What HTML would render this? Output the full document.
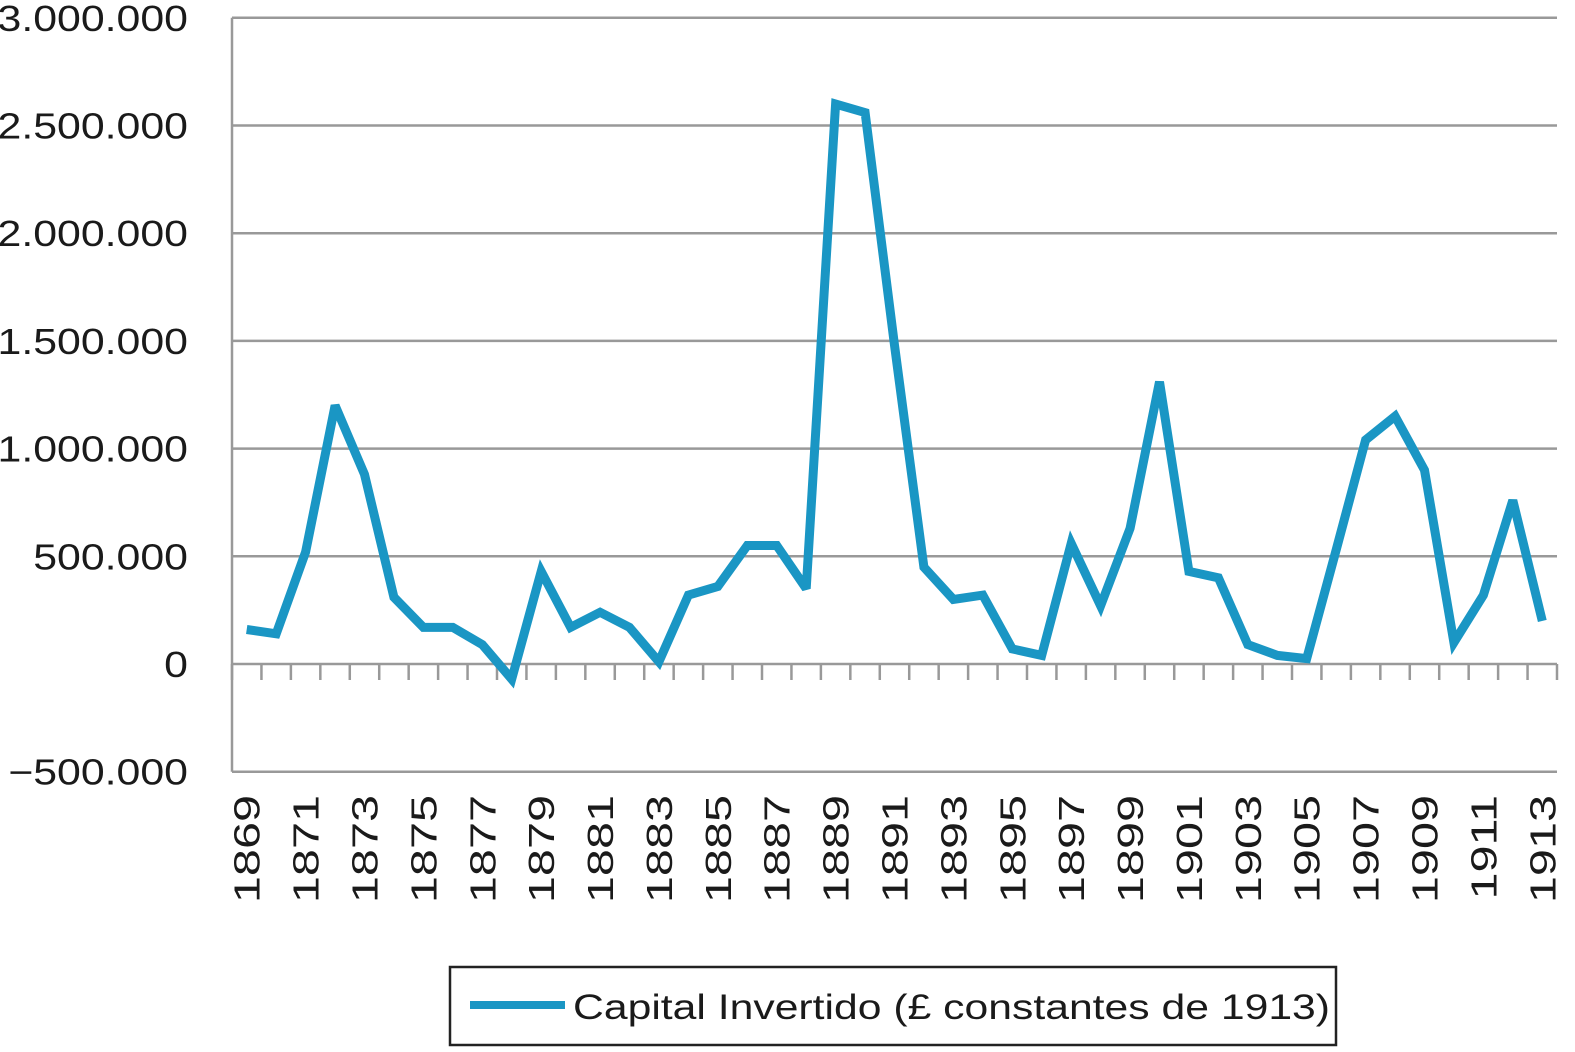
<!DOCTYPE html>
<html><head><meta charset="utf-8"><style>
html,body{margin:0;padding:0;background:#fff;}
svg{display:block;font-family:"Liberation Sans",Arial,sans-serif;}
</style></head><body>
<svg id="chart" width="1575" height="1052" viewBox="0 0 1575 1052">
<g id="grid"></g>
<g id="yticks"></g>
<g id="xaxis"></g>
<g id="series"></g>
<g>
<rect x="450" y="967" width="886" height="78" fill="#fff" stroke="#222" stroke-width="2.5"/>
<line x1="470" y1="1005" x2="565" y2="1005" stroke="#1a96c4" stroke-width="8"/>
<text transform="translate(573,1019) scale(1.22,1)" x="0" y="0" font-size="35" fill="#1a1a1a">Capital Invertido (£ constantes de 1913)</text>
</g>
</svg>
<script>
const years=[];for(let y=1869;y<=1913;y++)years.push(y);
const values=[160000,140000,520000,1200000,880000,310000,170000,170000,90000,-70000,430000,170000,240000,170000,10000,320000,360000,550000,550000,350000,2600000,2560000,1480000,450000,300000,320000,70000,40000,560000,270000,630000,1310000,430000,400000,90000,40000,25000,530000,1040000,1150000,900000,100000,320000,760000,200000];
const yTicks=[-500000,0,500000,1000000,1500000,2000000,2500000,3000000];
const yTickLabels=["\u2212500.000","0","500.000","1.000.000","1.500.000","2.000.000","2.500.000","3.000.000"];
const NS="http://www.w3.org/2000/svg";
const L=232,R=1557,Y0=664,PX=107.7/500000;
const band=(R-L)/years.length;
function yS(v){return Y0-v*PX;}
function xS(i){return L+band*(i+0.5);}
function mk(tag,at,parent){const e=document.createElementNS(NS,tag);for(const k in at)e.setAttribute(k,at[k]);parent.appendChild(e);return e;}
const grid=document.getElementById('grid'),yt=document.getElementById('yticks'),xa=document.getElementById('xaxis'),se=document.getElementById('series');
yTicks.forEach((v,i)=>{
  if(v!==0){const g=mk('line',{x1:L,x2:R,y1:yS(v),y2:yS(v),stroke:'#999','stroke-width':2.5},grid);
  
  }
  const t=mk('text',{x:0,y:0,transform:`translate(188,${yS(v)+13}) scale(1.19,1)`,'text-anchor':'end','font-size':36,fill:'#1a1a1a'},yt);
  t.textContent=yTickLabels[i];
  
  
});
const ya=mk('line',{x1:L,x2:L,y1:yS(3000000),y2:yS(-500000),stroke:'#999','stroke-width':2.5},xa);


const xl=mk('line',{x1:L,x2:R,y1:Y0,y2:Y0,stroke:'#999','stroke-width':2.5},xa);


for(let i=0;i<=years.length;i++){
  const tk=mk('line',{x1:L+band*i,x2:L+band*i,y1:Y0,y2:Y0+16,stroke:'#999','stroke-width':2.5},xa);
  
  
}
years.forEach((yr,i)=>{
  if(i%2)return;
  const x=xS(i)+13,y=795;
  const t=mk('text',{x:0,y:0,transform:`translate(${x},${y}) rotate(-90) scale(1.35,1)`,'text-anchor':'end','font-size':36,fill:'#1a1a1a'},xa);
  t.textContent=yr;
  
  
});
const pts=values.map((v,i)=>xS(i).toFixed(1)+','+yS(v).toFixed(1)).join(' ');
const pl=mk('polyline',{points:pts,fill:'none',stroke:'#1a96c4','stroke-width':9,'stroke-linejoin':'miter','stroke-miterlimit':3},se);


</script>
</body></html>
